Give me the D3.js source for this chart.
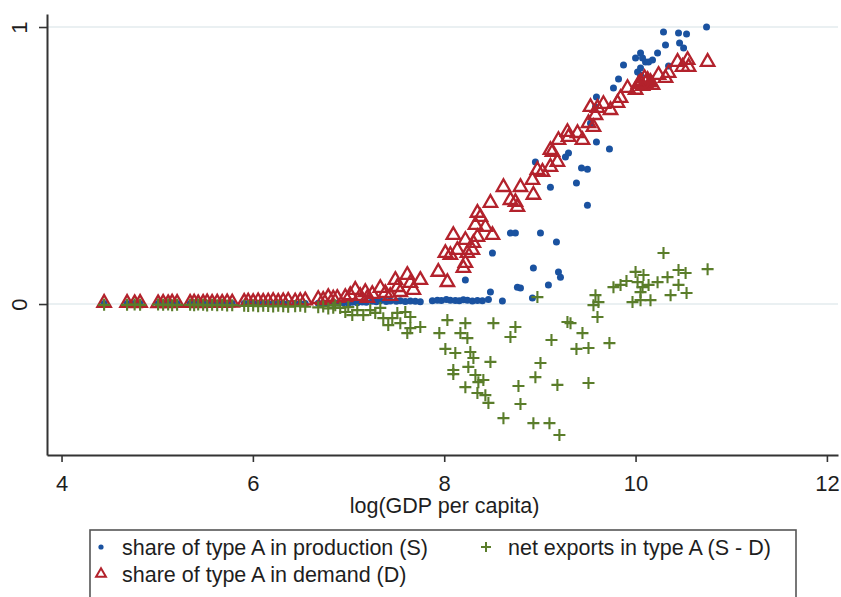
<!DOCTYPE html>
<html>
<head>
<meta charset="utf-8">
<script src="https://cdn.jsdelivr.net/npm/d3@7"></script>
<style>
  body { margin: 0; background: #fff; }
  svg { display: block; }
  text { font-family: "Liberation Sans", Arial, Helvetica, sans-serif; fill: #1e1e1e; }
</style>
</head>
<body>
<svg id="chart" width="841" height="597"></svg>
<script>
// ---- data: [log GDP per capita, value] ----
const xTicks = [4, 6, 8, 10, 12];
const yTicks = [0, 1];
const xTitle = "log(GDP per capita)";
const legendLabels = [
  "share of type A in production (S)",
  "net exports in type A (S - D)",
  "share of type A in demand (D)"
];

// share of type A in production (S)
const productionShare = [
  [4.445,0.002],[4.685,0.002],[4.764,0.002],[4.821,0.002],[5.009,0.002],[5.062,0.002],
  [5.114,0.002],[5.156,0.002],[5.208,0.002],[5.344,0.002],[5.386,0.002],[5.428,0.002],
  [5.480,0.002],[5.522,0.002],[5.574,0.002],[5.627,0.002],[5.679,0.002],[5.731,0.002],
  [5.784,0.002],[5.909,0.002],[5.951,0.002],[6.003,0.002],[6.055,0.002],[6.108,0.002],
  [6.160,0.002],[6.212,0.002],[6.265,0.002],[6.317,0.002],[6.369,0.002],[6.442,0.002],
  [6.495,0.002],[6.547,0.002],[6.683,0.003],[6.735,0.003],[6.788,0.003],[6.840,0.003],
  [6.893,0.004],[6.945,0.005],[6.997,0.004],[7.039,0.006],[7.091,0.005],[7.143,0.007],
  [7.185,0.006],[7.248,0.010],[7.290,0.008],[7.332,0.012],[7.394,0.009],[7.436,0.011],
  [7.499,0.010],[7.541,0.012],[7.593,0.009],[7.646,0.011],[7.698,0.010],[7.750,0.008],
  [7.876,0.012],[7.928,0.014],[7.970,0.013],[8.022,0.016],[8.064,0.014],[8.116,0.013],
  [8.158,0.012],[8.200,0.015],[8.242,0.014],[8.294,0.011],[8.347,0.013],[8.399,0.012],
  [8.462,0.016],
  [8.221,0.087],[8.483,0.043],[8.608,0.011],[8.765,0.061],[8.797,0.058],[8.504,0.184],
  [8.692,0.256],[8.744,0.256],[8.932,0.130],[9.006,0.256],[9.089,0.069],[9.173,0.224],
  [9.194,0.116],[9.215,0.097],[8.922,0.022],[9.110,0.422],[9.382,0.437],[9.497,0.357],
  [8.953,0.513],[9.435,0.491],[9.497,0.487],[9.267,0.531],[9.299,0.545],[9.591,0.585],
  [9.727,0.560],[9.529,0.653],[9.581,0.711],[9.591,0.747],[9.769,0.780],[9.822,0.812],
  [9.874,0.863],[10.021,0.838],[10.052,0.852],[10.000,0.888],[10.052,0.906],[10.104,0.874],
  [10.136,0.874],[10.230,0.906],[10.313,0.935],[10.345,0.859],[10.460,0.942],[10.449,0.978],
  [10.533,0.975],[10.292,0.982],[10.502,0.924],[10.742,1.000],[10.052,0.827],[10.073,0.888],
  [10.177,0.881]
];

// share of type A in demand (D)
const demandShare = [
  [4.445,0.004],[4.685,0.004],[4.764,0.003],[4.821,0.004],[5.009,0.003],[5.062,0.004],
  [5.114,0.003],[5.156,0.005],[5.208,0.004],[5.344,0.004],[5.386,0.005],[5.428,0.003],
  [5.480,0.004],[5.522,0.006],[5.574,0.004],[5.627,0.005],[5.679,0.004],[5.731,0.006],
  [5.784,0.005],[5.909,0.008],[5.951,0.009],[6.003,0.007],[6.055,0.010],[6.108,0.008],
  [6.160,0.009],[6.212,0.011],[6.265,0.008],[6.317,0.010],[6.369,0.012],[6.442,0.009],
  [6.495,0.011],[6.547,0.013],[6.683,0.018],[6.735,0.015],[6.788,0.025],[6.840,0.020],
  [6.882,0.022],[6.966,0.025],[7.018,0.032],[7.070,0.051],[7.122,0.029],[7.175,0.043],
  [7.196,0.022],[7.248,0.036],[7.332,0.058],[7.384,0.040],[7.436,0.029],[7.489,0.087],
  [7.510,0.061],[7.541,0.043],[7.614,0.105],[7.646,0.076],[7.677,0.051],[7.750,0.087],
  [7.938,0.116],[8.033,0.079],[8.012,0.184],[8.064,0.177],[8.137,0.195],[8.095,0.249],
  [8.221,0.231],[8.242,0.184],[8.294,0.195],[8.326,0.285],[8.347,0.329],[8.221,0.148],
  [8.200,0.130],[8.378,0.314],[8.430,0.278],[8.483,0.365],[8.504,0.249],[8.347,0.242],
  [8.305,0.220],[8.619,0.422],[8.797,0.422],[8.692,0.375],[8.765,0.350],[8.744,0.368],
  [8.932,0.394],[8.922,0.448],[8.974,0.484],[9.027,0.477],[9.110,0.495],[9.183,0.513],
  [9.110,0.556],[9.194,0.592],[9.288,0.621],[9.299,0.603],[9.393,0.617],[9.445,0.592],
  [9.508,0.653],[9.560,0.639],[9.529,0.711],[9.602,0.708],[9.738,0.700],[9.811,0.726],
  [9.131,0.549],[9.581,0.682],[9.664,0.722],[9.843,0.744],[9.916,0.780],[10.000,0.773],
  [10.052,0.801],[10.104,0.798],[10.156,0.801],[10.073,0.787],[10.125,0.809],[10.177,0.791],
  [10.031,0.794],[10.094,0.816],[10.240,0.827],[10.313,0.816],[10.345,0.834],[10.439,0.874],
  [10.491,0.856],[10.544,0.881],[10.554,0.856],[10.753,0.874]
];

// net exports in type A (S - D)
const netExports = [
  [4.445,-0.003],[4.685,-0.003],[4.764,-0.002],[4.821,-0.003],[5.009,-0.002],[5.062,-0.003],
  [5.114,-0.002],[5.156,-0.004],[5.208,-0.003],[5.344,-0.003],[5.386,-0.004],[5.428,-0.002],
  [5.480,-0.003],[5.522,-0.005],[5.574,-0.003],[5.627,-0.004],[5.679,-0.003],[5.731,-0.005],
  [5.784,-0.004],[5.909,-0.006],[5.951,-0.007],[6.003,-0.005],[6.055,-0.008],[6.108,-0.006],
  [6.160,-0.007],[6.212,-0.009],[6.265,-0.006],[6.317,-0.008],[6.369,-0.010],[6.442,-0.008],
  [6.495,-0.006],[6.547,-0.010],[6.683,-0.012],[6.735,-0.009],[6.788,-0.016],[6.840,-0.013],
  [6.861,-0.004],[6.913,-0.014],[6.997,-0.011],[7.091,-0.022],[7.154,-0.040],[7.227,-0.022],
  [7.279,-0.032],[7.332,-0.014],[7.363,-0.051],[7.457,-0.051],[7.510,-0.032],[7.593,-0.029],
  [7.646,-0.047],[7.541,-0.069],[7.646,-0.087],[7.750,-0.083],[6.966,-0.029],[7.039,-0.040],
  [7.415,-0.076],[7.614,-0.105],
  [7.949,-0.105],[8.033,-0.058],[8.221,-0.069],[8.242,-0.123],[8.169,-0.105],[8.012,-0.162],
  [8.116,-0.177],[8.273,-0.173],[8.305,-0.195],[8.252,-0.227],[8.095,-0.238],[8.095,-0.253],
  [8.483,-0.209],[8.326,-0.256],[8.409,-0.274],[8.357,-0.282],[8.221,-0.300],[8.347,-0.321],
  [8.430,-0.329],[8.462,-0.357],[8.514,-0.069],[8.744,-0.083],[8.692,-0.119],[8.776,-0.296],
  [8.797,-0.361],[8.619,-0.412],[9.006,-0.213],[8.953,-0.264],[9.183,-0.292],[8.932,-0.430],
  [9.100,-0.430],[9.204,-0.473],[9.121,-0.130],[9.288,-0.065],[9.320,-0.069],[9.445,-0.105],
  [9.382,-0.162],[9.508,-0.159],[9.508,-0.285],[9.602,-0.047],[9.727,-0.141],[9.560,-0.004],
  [9.612,0.007],[9.968,0.007],[8.974,0.025],[9.581,0.032],[9.769,0.061],[9.843,0.069],
  [9.905,0.083],[10.000,0.116],[10.083,0.105],[10.021,0.079],[10.073,0.061],[10.052,0.043],
  [10.136,0.069],[10.052,0.014],[10.156,0.014],[10.230,0.079],[10.334,0.097],[10.292,0.184],
  [10.449,0.123],[10.523,0.112],[10.449,0.069],[10.366,0.032],[10.533,0.040],[10.753,0.126]
];

// ---- layout ----
const svg = d3.select("#chart");
const colBlue = "#1a52a0", colRed = "#b3222c", colGreen = "#5a7d2a";

const x = d3.scaleLinear().domain([3.848, 12.116]).range([47, 838]);
const y = d3.scaleLinear().domain([-0.545, 1.047]).range([455, 14]);

// light horizontal grid at the y ticks
svg.append("g").selectAll("line").data(yTicks).join("line")
  .attr("x1", x.range()[0]).attr("x2", x.range()[1])
  .attr("y1", d => y(d)).attr("y2", d => y(d))
  .attr("stroke", "#e3ebee").attr("stroke-width", 1.6);

// markers
const tri = d3.symbol(d3.symbolTriangle, 78);
const plusPath = "M-6,0H6M0,-6V6";

svg.append("g").selectAll("circle").data(productionShare).join("circle")
  .attr("cx", d => x(d[0])).attr("cy", d => y(d[1])).attr("r", 3.5)
  .attr("fill", colBlue);

svg.append("g").selectAll("path").data(demandShare).join("path")
  .attr("transform", d => `translate(${x(d[0])},${y(d[1])})`)
  .attr("d", tri).attr("fill", "none")
  .attr("stroke", colRed).attr("stroke-width", 2.3).attr("stroke-linejoin", "miter");

svg.append("g").selectAll("path").data(netExports).join("path")
  .attr("transform", d => `translate(${x(d[0])},${y(d[1])})`)
  .attr("d", plusPath).attr("fill", "none")
  .attr("stroke", colGreen).attr("stroke-width", 2.1);

// axes
const xAxis = svg.append("g").attr("transform", `translate(0,${y.range()[0]})`)
  .call(d3.axisBottom(x).tickValues(xTicks).tickFormat(d3.format("d"))
    .tickSize(7).tickSizeOuter(0).tickPadding(13));
const yAxis = svg.append("g").attr("transform", `translate(${x.range()[0]},0)`)
  .call(d3.axisLeft(y).tickValues(yTicks).tickFormat(d3.format("d"))
    .tickSize(8).tickSizeOuter(0));

[xAxis, yAxis].forEach(g => {
  g.select(".domain").attr("stroke", "#333").attr("stroke-width", 2);
  g.selectAll(".tick line").attr("stroke", "#333").attr("stroke-width", 1.6);
  g.selectAll(".tick text").attr("font-size", 22).attr("fill", "#1e1e1e")
    .style("font-family", '"Liberation Sans", Arial, sans-serif');
});
yAxis.selectAll(".tick text")
  .attr("x", 0).attr("y", -27.5).attr("dy", "0.35em")
  .attr("text-anchor", "middle").attr("transform", "rotate(-90)");

svg.append("text")
  .attr("x", (x.range()[0] + x.range()[1]) / 2 + 2).attr("y", 513)
  .attr("text-anchor", "middle").attr("font-size", 21.5)
  .text(xTitle);

// legend
const lg = svg.append("g");
lg.append("rect").attr("x", 90).attr("y", 530).attr("width", 706).attr("height", 90)
  .attr("fill", "none").attr("stroke", "#555").attr("stroke-width", 1.6);

lg.append("circle").attr("cx", 101).attr("cy", 547).attr("r", 2.6).attr("fill", colBlue);
lg.append("path").attr("transform", "translate(101,574)")
  .attr("d", d3.symbol(d3.symbolTriangle, 42)).attr("fill", "none")
  .attr("stroke", colRed).attr("stroke-width", 2);
lg.append("path").attr("transform", "translate(486,547)")
  .attr("d", "M-5,0H5M0,-5V5").attr("stroke", colGreen).attr("stroke-width", 2);

const legendPos = [[122, 555], [508, 555], [122, 582]];
lg.selectAll("text").data(legendLabels).join("text")
  .attr("x", (d, i) => legendPos[i][0]).attr("y", (d, i) => legendPos[i][1])
  .attr("font-size", 21.5).text(d => d);
</script>
</body>
</html>
